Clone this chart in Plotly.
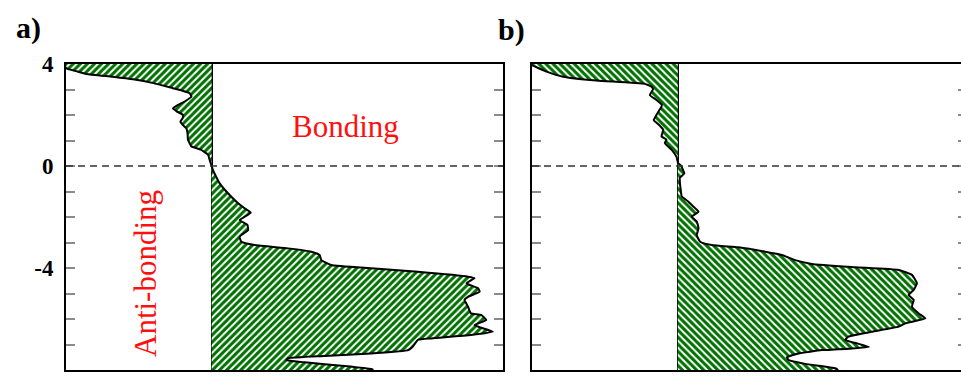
import plotly.graph_objects as go

# Panel a: energy (eV) and -COHP values
energy_a = [4.0, 3.83, 3.72, 3.61, 3.50, 3.40, 3.25, 3.05, 2.95, 2.85, 2.72, 2.55, 2.40, 2.26,
            2.14, 2.0, 1.87, 1.74, 1.62, 1.48, 1.25, 1.03, 0.89, 0.77, 0.64, 0.44, 0.20, 0.0,
            -0.16, -0.68, -1.07, -1.40, -1.66, -1.83, -2.12, -2.31, -2.51, -2.77, -2.97, -3.10,
            -3.23, -3.36, -3.49, -3.69, -3.88, -4.01, -4.15, -4.34, -4.40, -4.60, -4.80, -4.93,
            -5.13, -5.25, -5.52, -5.78, -5.84, -6.04, -6.24, -6.50, -6.63, -6.76, -6.82, -7.09,
            -7.22, -7.35, -7.45, -7.54, -7.61, -7.70, -7.84, -7.96, -8.0]
cohp_a = [-1.02, -0.997, -0.93, -0.86, -0.68, -0.54, -0.40, -0.266, -0.20, -0.151, -0.139, -0.18,
          -0.23, -0.266, -0.24, -0.197, -0.20, -0.215, -0.20, -0.174, -0.165, -0.163, -0.151,
          -0.14, -0.075, -0.025, -0.012, 0.0,
          0.009, 0.055, 0.112, 0.17, 0.226, 0.268, 0.192, 0.245, 0.25, 0.192, 0.204, 0.295,
          0.524, 0.684, 0.741, 0.753, 0.82, 1.096, 1.416, 1.76, 1.805, 1.75, 1.83, 1.84,
          1.76, 1.736, 1.76, 1.78, 1.85, 1.885, 1.805, 1.93, 1.78, 1.51, 1.416, 1.38,
          1.35, 1.096, 0.776, 0.524, 0.513, 0.64, 0.913, 1.096, 1.11]

# Panel b
energy_b = [4.0, 3.96, 3.70, 3.50, 3.35, 3.22, 3.11, 3.01, 2.78, 2.59, 2.40, 2.33, 2.01, 1.80,
            1.62, 1.42, 1.16, 1.03, 0.90, 0.64, 0.36, 0.12, -0.01, -0.16, -0.29, -0.47, -0.61,
            -0.75, -1.07, -1.20, -1.40, -1.60, -1.79, -1.99, -2.18, -2.44, -2.71, -2.97, -3.10,
            -3.19, -3.36, -3.49, -3.69, -3.84, -3.97, -4.08, -4.27, -4.60, -4.86, -5.06, -5.25,
            -5.52, -5.78, -5.97, -6.17, -6.30, -6.50, -6.69, -6.82, -7.09, -7.19, -7.22, -7.35,
            -7.50, -7.61, -7.76, -7.93, -8.0]
cohp_b = [-1.03, -1.004, -0.90, -0.787, -0.558, -0.226, -0.18, -0.17, -0.192, -0.146, -0.11,
          -0.112, -0.146, -0.165, -0.13, -0.10, -0.112, -0.078, -0.089, -0.043, -0.009, 0.002,
          0.025, 0.036, 0.045, 0.014, 0.014,
          0.016, 0.023, 0.027, 0.073, 0.108, 0.142, 0.096, 0.13, 0.142, 0.13, 0.153, 0.233,
          0.416, 0.60, 0.714, 0.805, 0.92, 1.217, 1.515, 1.606, 1.64, 1.618, 1.583, 1.618,
          1.606, 1.652, 1.697, 1.56, 1.515, 1.33, 1.17, 1.148, 1.31, 1.10, 0.988, 0.828,
          0.748, 0.76, 0.874, 1.08, 1.10]

y_ticks = [4, 0, -4, -8]
y_ticklabels = ["4", "0", "-4", "-8"]
panel_labels = ["a)", "b)"]

W, H = 961, 379
fig = go.Figure()

hatch_col = "#007000"
fig.add_trace(go.Scatter(
    x=cohp_a, y=energy_a, xaxis="x", yaxis="y", mode="lines",
    line=dict(color="black", width=2, shape="spline", smoothing=0.4),
    fill="tozerox", fillcolor="rgba(0,0,0,0)",
    fillpattern=dict(shape="/", fgcolor=hatch_col, bgcolor="white", size=5, solidity=0.6),
    showlegend=False, hoverinfo="skip"))
fig.add_trace(go.Scatter(
    x=cohp_b, y=energy_b, xaxis="x2", yaxis="y2", mode="lines",
    line=dict(color="black", width=2, shape="spline", smoothing=0.4),
    fill="tozerox", fillcolor="rgba(0,0,0,0)",
    fillpattern=dict(shape="\\", fgcolor=hatch_col, bgcolor="white", size=5, solidity=0.6),
    showlegend=False, hoverinfo="skip"))
# helper trace so the right tick axis of panel b is drawn
fig.add_trace(go.Scatter(x=[None], y=[None], xaxis="x2", yaxis="y3",
                         showlegend=False, hoverinfo="skip"))

ydom = [9 / H, 1 - 64 / H]
xa_dom = [66 / W, 503 / W]
xb_dom = [532 / W, 1.0]

tickc = "#8a8a8a"
common_y = dict(range=[-8, 4], tickmode="array", tickvals=y_ticks, ticktext=y_ticklabels,
                showline=True, linecolor="black", linewidth=2, ticks="inside", ticklen=9,
                tickwidth=1.5, tickcolor=tickc, showgrid=False, zeroline=False,
                minor=dict(dtick=1, tick0=0, ticks="inside", ticklen=9, tickwidth=1.5,
                           tickcolor=tickc, showgrid=False),
                domain=ydom, fixedrange=True, automargin=False)
common_x = dict(showline=True, linecolor="black", linewidth=2, mirror=True, ticks="",
                showticklabels=False, showgrid=False, zeroline=True, zerolinecolor="black",
                zerolinewidth=1.5, fixedrange=True, automargin=False)

fig.update_layout(
    template="none",
    width=W, height=H, margin=dict(l=0, r=0, t=0, b=0, pad=0, autoexpand=False),
    paper_bgcolor="white", plot_bgcolor="white",
    xaxis=dict(common_x, domain=xa_dom, range=[-1.0, 2.0], anchor="y"),
    xaxis2=dict(common_x, domain=xb_dom, range=[-1.0, (961 - 678) / 145.7], anchor="y2"),
    yaxis=dict(common_y, anchor="x", mirror="ticks", showticklabels=True,
               tickfont=dict(family="Liberation Serif", size=23, color="black", weight="bold"),
               ticklabelstandoff=6),
    yaxis2=dict(common_y, anchor="x2", mirror=False, showticklabels=False),
    yaxis3=dict(range=[-8, 4], overlaying="y2", anchor="free", position=1.0, side="right",
                showline=False, ticks="inside", ticklen=3, tickwidth=1.5, tickcolor=tickc,
                tickmode="array", tickvals=y_ticks, showticklabels=False, showgrid=False,
                zeroline=False, minor=dict(dtick=1, tick0=0, ticks="inside", ticklen=3,
                                           tickwidth=1.5, tickcolor=tickc, showgrid=False),
                fixedrange=True, automargin=False),
    shapes=[
        dict(type="line", xref="x domain", yref="y", x0=0, x1=1, y0=0, y1=0,
             line=dict(color="#333333", width=1.5, dash="7px,5px"), layer="above"),
        dict(type="line", xref="x2 domain", yref="y2", x0=0, x1=1, y0=0, y1=0,
             line=dict(color="#333333", width=1.5, dash="7px,5px"), layer="above"),
    ],
    annotations=[
        dict(text=panel_labels[0], xref="paper", yref="paper", x=28 / W, y=1 - 28 / H,
             showarrow=False, xanchor="center", yanchor="middle",
             font=dict(family="Liberation Serif", size=30, color="black", weight="bold")),
        dict(text=panel_labels[1], xref="paper", yref="paper", x=511 / W, y=1 - 30 / H,
             showarrow=False, xanchor="center", yanchor="middle",
             font=dict(family="Liberation Serif", size=30, color="black", weight="bold")),
        dict(text="Bonding", xref="paper", yref="paper", x=345 / W, y=1 - 126 / H,
             showarrow=False, xanchor="center", yanchor="middle",
             font=dict(family="Liberation Serif", size=31, color="#ff1010")),
        dict(text="Anti-bonding", xref="paper", yref="paper", x=145 / W, y=1 - 274 / H,
             showarrow=False, xanchor="center", yanchor="middle", textangle=-90,
             font=dict(family="Liberation Serif", size=31, color="#ff1010")),
    ],
)

fig.write_html("out.html")
